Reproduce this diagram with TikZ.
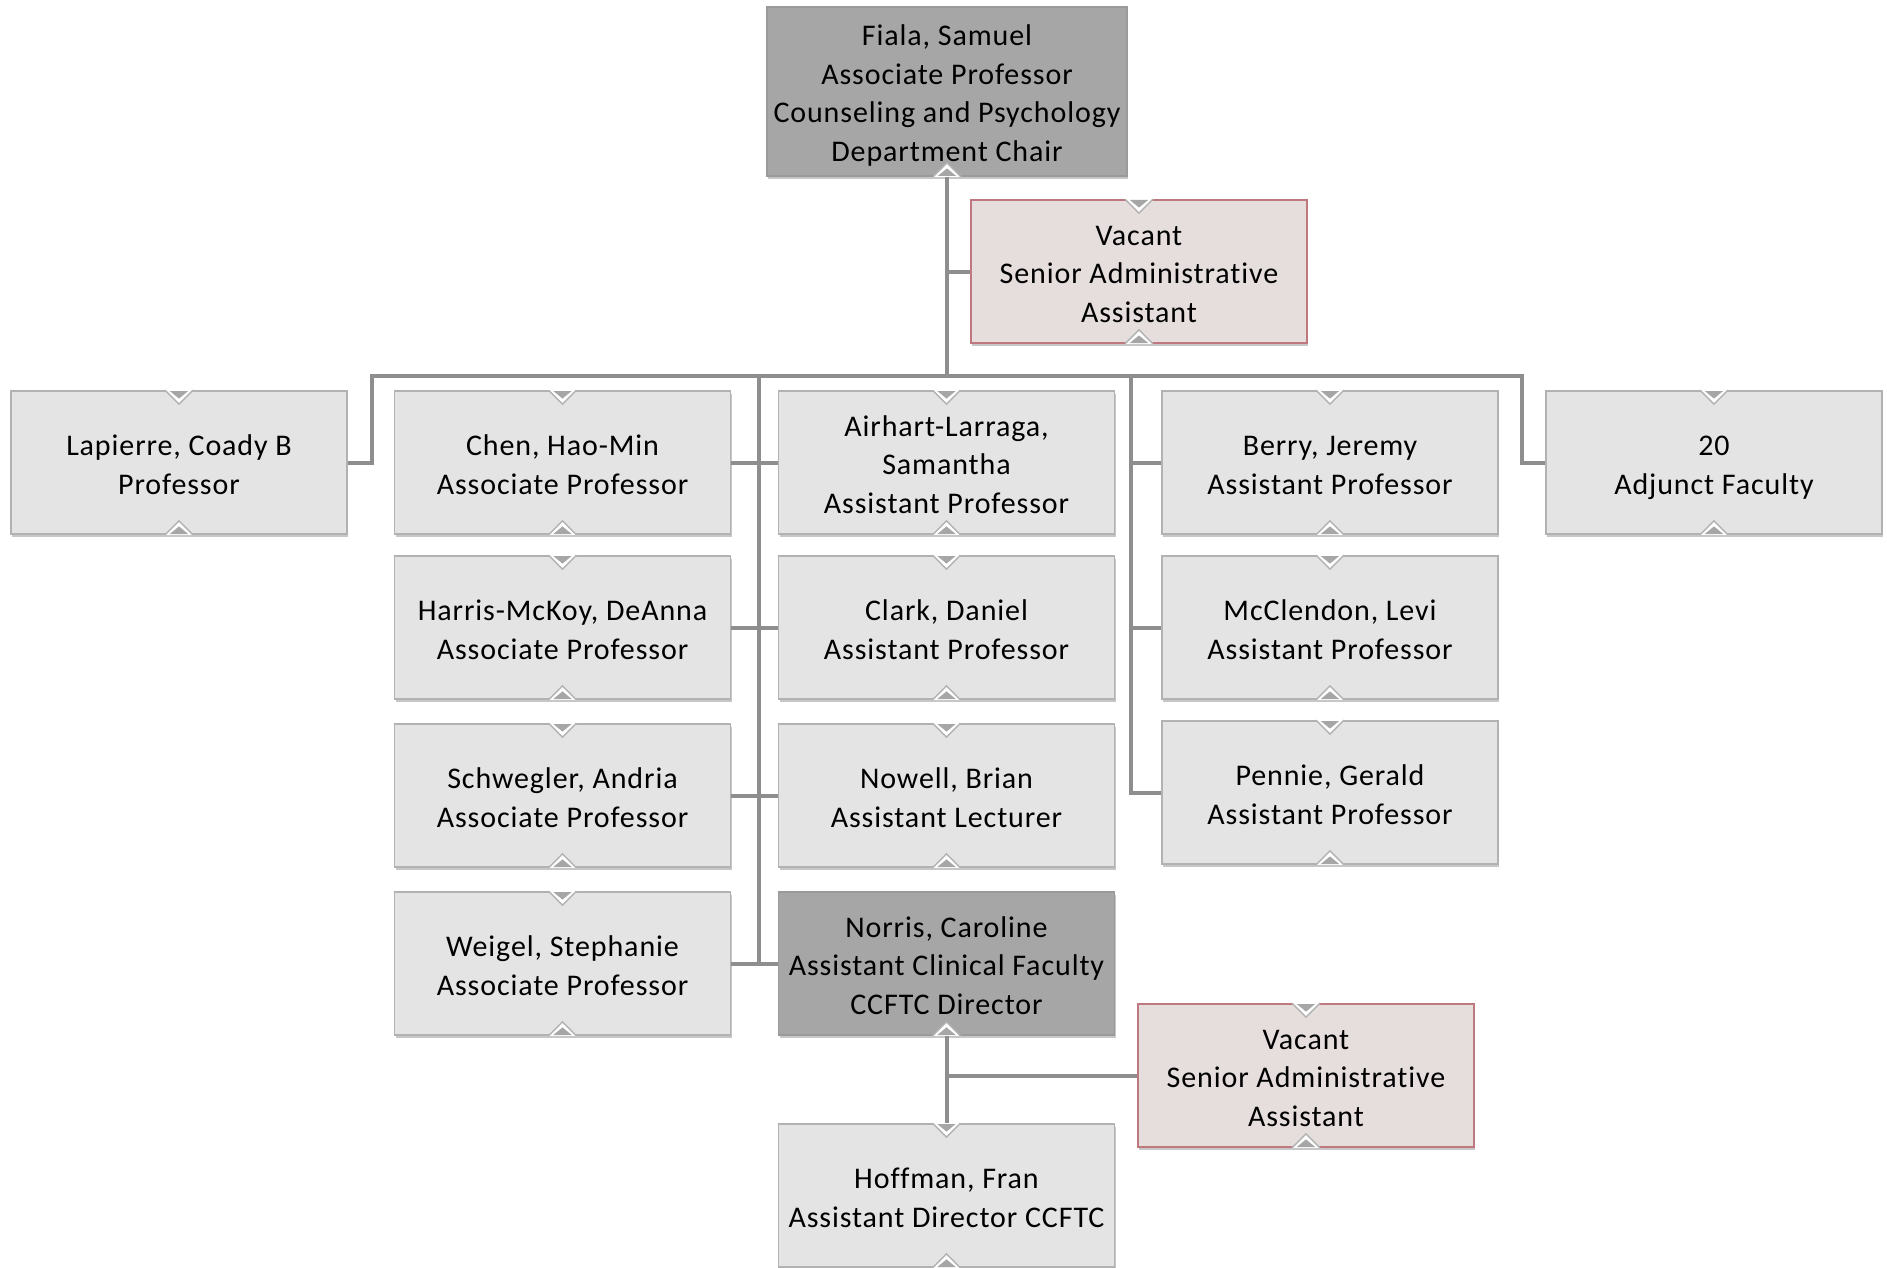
\documentclass[tikz,border=0pt]{standalone}
\usepackage{fontspec}
\setmainfont{Carlito}[LetterSpace=3, Ligatures={NoCommon}]
\usetikzlibrary{shadows,calc}
\definecolor{lightfill}{HTML}{E4E4E4}
\definecolor{lightline}{HTML}{B2B2B2}
\definecolor{darkfill}{HTML}{A6A6A6}
\definecolor{darkline}{HTML}{9A9A9A}
\definecolor{vacfill}{HTML}{E6DDDD}
\definecolor{vacline}{HTML}{C07880}
\definecolor{connc}{HTML}{8E8E8E}
\definecolor{notchc}{HTML}{A6A6A6}
\newcommand{\botstrut}{\rule[-3.8pt]{0pt}{3.8pt}}
\newcommand{\topstrut}{\rule{0pt}{16pt}}
\tikzset{
  box/.style={rectangle, minimum width=168pt, minimum height=71.5pt, inner xsep=2pt, inner ysep=0pt,
    align=center, font=\fontsize{15}{19.3}\selectfont, line width=0.8pt,
    execute at end node=\botstrut,
    drop shadow={shadow xshift=0.6pt, shadow yshift=-1.6pt, opacity=0.22, fill=black}},
  lightbox/.style={box, fill=lightfill, draw=lightline},
  darkbox/.style={box, fill=darkfill, draw=darkline},
  vacbox/.style={box, fill=vacfill, draw=vacline},
  conn/.style={draw=connc, line width=2pt},
}
\newcommand{\notchtop}[1]{%
  \fill[white] ([xshift=-7pt]#1.north) -- ([yshift=-7pt]#1.north) -- ([xshift=7pt]#1.north) -- cycle;
  \draw[lightline, line width=0.7pt] ([xshift=-7pt]#1.north) -- ([yshift=-7pt]#1.north) -- ([xshift=7pt]#1.north);
  \fill[notchc] ([xshift=-4.6pt,yshift=-0.4pt]#1.north) -- ([yshift=-4.2pt]#1.north) -- ([xshift=4.6pt,yshift=-0.4pt]#1.north) -- cycle;}
\newcommand{\notchbot}[1]{%
  \fill[white] ([xshift=-7pt]#1.south) -- ([yshift=7pt]#1.south) -- ([xshift=7pt]#1.south) -- cycle;
  \draw[lightline, line width=0.7pt] ([xshift=-7pt]#1.south) -- ([yshift=7pt]#1.south) -- ([xshift=7pt]#1.south);
  \fill[notchc] ([xshift=-4.6pt,yshift=0.4pt]#1.south) -- ([yshift=4.2pt]#1.south) -- ([xshift=4.6pt,yshift=0.4pt]#1.south) -- cycle;}
\begin{document}
\begin{tikzpicture}[x=0.5pt, y=-0.5pt]
\useasboundingbox (0,0) rectangle (1887,1268);

\node[darkbox, minimum width=180pt, minimum height=84.5pt] (fiala) at (947,91.5)
  {\topstrut Fiala, Samuel\\Associate Professor\\Counseling and Psychology\\Department Chair};
\node[vacbox] (vac1) at (1139,271.5) {\topstrut Vacant\\Senior Administrative\\Assistant};

\node[lightbox] (lap) at (179,462.5) {\topstrut Lapierre, Coady B\\Professor};
\node[lightbox] (chen) at (562.5,462.5) {\topstrut Chen, Hao-Min\\Associate Professor};
\node[lightbox] (air) at (946.5,462.5) {\topstrut Airhart-Larraga,\\Samantha\\Assistant Professor};
\node[lightbox] (berry) at (1330,462.5) {\topstrut Berry, Jeremy\\Assistant Professor};
\node[lightbox] (adj) at (1714,462.5) {\topstrut 20\\Adjunct Faculty};

\node[lightbox] (harris) at (562.5,627.5) {\topstrut Harris-McKoy, DeAnna\\Associate Professor};
\node[lightbox] (clark) at (946.5,627.5) {\topstrut Clark, Daniel\\Assistant Professor};
\node[lightbox] (mccl) at (1330,627.5) {\topstrut McClendon, Levi\\Assistant Professor};

\node[lightbox] (schw) at (562.5,795.5) {\topstrut Schwegler, Andria\\Associate Professor};
\node[lightbox] (nowell) at (946.5,795.5) {\topstrut Nowell, Brian\\Assistant Lecturer};
\node[lightbox] (pennie) at (1330,792.5) {\topstrut Pennie, Gerald\\Assistant Professor};

\node[lightbox] (weigel) at (562.5,963.5) {\topstrut Weigel, Stephanie\\Associate Professor};
\node[darkbox] (norris) at (946.5,963.5) {\topstrut Norris, Caroline\\Assistant Clinical Faculty\\CCFTC Director};

\node[vacbox] (vac2) at (1306,1075.5) {\topstrut Vacant\\Senior Administrative\\Assistant};
\node[lightbox] (hoff) at (946.5,1195.5) {\topstrut Hoffman, Fran\\Assistant Director CCFTC};

% notches
\foreach \n in {vac1,lap,chen,air,berry,adj,harris,clark,mccl,schw,nowell,pennie,weigel,vac2,hoff} {\notchtop{\n}}
\foreach \n in {fiala,vac1,lap,chen,air,berry,adj,harris,clark,mccl,schw,nowell,pennie,weigel,norris,vac2,hoff} {\notchbot{\n}}

% connectors
\coordinate (busL) at (372,375.5);
\coordinate (busR) at (1522,375.5);
\coordinate (lv) at (759,375.5);
\coordinate (rv) at (1131,375.5);

\draw[conn] (fiala.south) -- (fiala.south |- busL);
\draw[conn] (fiala.south |- vac1.west) -- (vac1.west);
\draw[conn] (lap.east) -| (busL) -- (busR) |- (adj.west);

\draw[conn] (lv) -- (lv |- weigel.east);
\draw[conn] (chen.east) -- (air.west);
\draw[conn] (harris.east) -- (clark.west);
\draw[conn] (schw.east) -- (nowell.west);
\draw[conn] (weigel.east) -- (norris.west);

\draw[conn] (rv) |- (pennie.west);
\draw[conn] (rv |- berry.west) -- (berry.west);
\draw[conn] (rv |- mccl.west) -- (mccl.west);

\draw[conn] (norris.south) -- (hoff.north);
\draw[conn] (norris.south |- vac2.west) -- (vac2.west);
\end{tikzpicture}
\end{document}
